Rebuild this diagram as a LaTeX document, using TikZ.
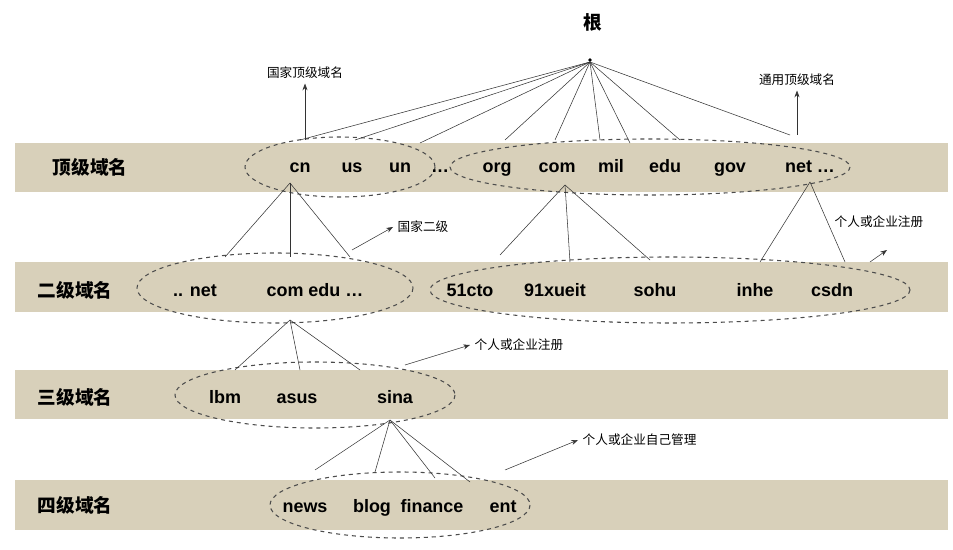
\documentclass[tikz,border=0pt]{standalone}
\usepackage{fontspec}
\setmainfont{Liberation Sans}
\newfontfamily\cjk{Noto Sans CJK SC}
\usetikzlibrary{arrows.meta}
\definecolor{band}{RGB}{216,208,186}
\begin{document}
\begin{tikzpicture}[x=0.0264cm,y=-0.0264cm,
  bandlbl/.style={font=\cjk\bfseries\fontsize{14}{16}\selectfont},
  itm/.style={font=\bfseries\fontsize{13.5}{15}\selectfont,anchor=base,inner sep=0pt},
  note/.style={font=\cjk\fontsize{9.5}{11}\selectfont},
  ell/.style={draw=black!70,dashed,thick},
  ln/.style={draw=black!80,thin},
  arr/.style={draw=black!80,-{Stealth[length=5pt]}}]
\useasboundingbox (0,0) rectangle (953,550);
\fill[white] (0,0) rectangle (953,550);
\foreach \a/\b in {143/192,262/312,370/419,480/530} \fill[band] (15,\a) rectangle (948,\b);
\node[bandlbl] (l1) at (90,167) {顶级域名};
\node[bandlbl] (l2) at (75,290) {二级域名};
\node[bandlbl] (l3) at (75,397) {三级域名};
\node[bandlbl] (l4) at (75,505) {四级域名};
\node[bandlbl] (root) at (593,22) {根};
\coordinate (r) at (590,62);
\fill (590,60) circle (1.8);
% level1
\draw[ell] (340,167) ellipse (95 and 30);
\draw[ell] (650,167) ellipse (200 and 28);
\foreach \t/\x [count=\i] in {cn/300,us/352,un/400,…/440,org/497,com/557,mil/611,edu/665,gov/730,net …/810}
  \node[itm] (a\i) at (\x,173) {\t};
\foreach \x/\y in {300/140,355/140,420/143,505/140,555/140,600/140,630/143,680/140,790/135}
  \draw[ln] (r) -- (\x,\y);
\coordinate (c1) at (305,140); \node[note] (n1) at (305,73) {国家顶级域名};
\draw[arr] (c1) -- (n1.south);
\coordinate (c2) at (797,135); \node[note] (n2) at (797,80) {通用顶级域名};
\draw[arr] (c2) -- (n2.south);
% level2
\draw[ell] (275,288) ellipse (138 and 35);
\draw[ell] (670,290) ellipse (240 and 33);
\foreach \t/\x [count=\i] in {.. net/195,com edu …/315,51cto/470,91xueit/555,sohu/655,inhe/755,csdn/832}
  \node[itm] (b\i) at (\x,297) {\t};
\coordinate (p1) at (290,183);
\foreach \x in {225,290,350} \draw[ln] (p1) -- (\x,257);
\coordinate (p2) at (565,185);
\foreach \x/\y in {500/255,570/262,650/260} \draw[ln] (p2) -- (\x,\y);
\coordinate (p3) at (810,182);
\foreach \x in {760,845} \draw[ln] (p3) -- (\x,262);
\coordinate (c3) at (352,250); \node[note,anchor=west] (n3) at (393,227) {国家二级};
\draw[arr] (c3) -- (n3.west);
\coordinate (c4) at (870,262); \node[note,anchor=west] (n4) at (830,222) {个人或企业注册};
\draw[arr] (c4) -- (887,250);
% level3
\draw[ell] (315,395) ellipse (140 and 33);
\foreach \t/\x [count=\i] in {lbm/225,asus/297,sina/395}
  \node[itm] (d\i) at (\x,403) {\t};
\coordinate (p4) at (290,320);
\foreach \x in {235,300,360} \draw[ln] (p4) -- (\x,370);
\coordinate (c5) at (405,365); \node[note,anchor=west] (n5) at (470,345) {个人或企业注册};
\draw[arr] (c5) -- (n5.west);
% level4
\draw[ell] (400,505) ellipse (130 and 33);
\foreach \t/\x [count=\i] in {news/305,blog/372,finance/432,ent/503}
  \node[itm] (e\i) at (\x,512) {\t};
\coordinate (p5) at (390,420);
\foreach \x/\y in {315/470,375/472,435/478,470/482} \draw[ln] (p5) -- (\x,\y);
\coordinate (c6) at (505,470); \node[note,anchor=west] (n6) at (578,440) {个人或企业自己管理};
\draw[arr] (c6) -- (n6.west);
\end{tikzpicture}
\end{document}
